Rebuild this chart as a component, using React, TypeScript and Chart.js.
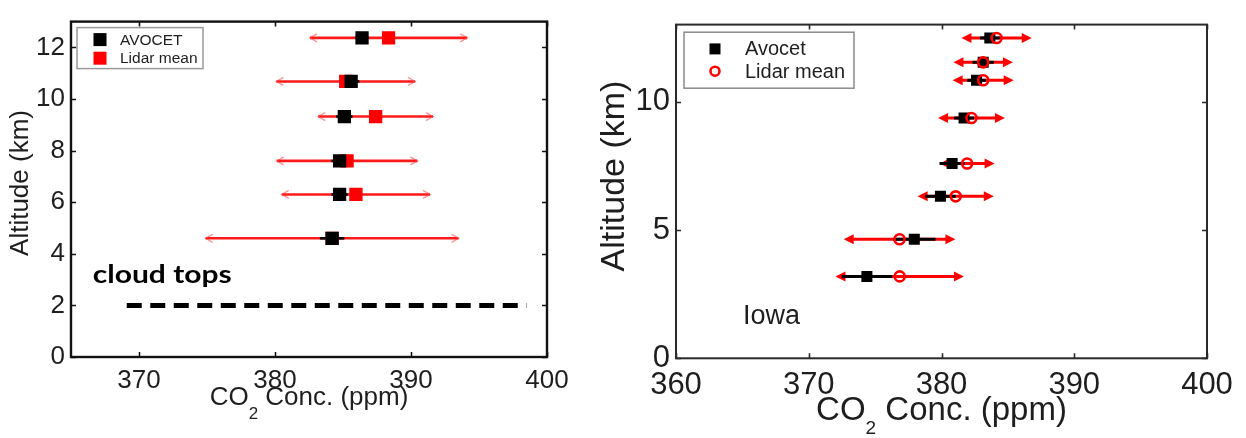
import React, { useEffect, useRef } from "react";
import { Chart, registerables } from "chart.js";

Chart.register(...registerables);

// ---------------- Left panel data ----------------
const leftAltitude = [12.37, 10.68, 9.32, 7.6, 6.3, 4.6];
const leftAvocet = [386.4, 385.6, 385.1, 384.75, 384.75, 384.2];
const leftAvocetErr = [0.5, 0.6, 0.6, 0.6, 0.6, 0.9];
const leftLidar = [388.35, 385.2, 387.4, 385.3, 385.95, 384.2];
const leftLidarErr = [5.78, 5.1, 4.22, 5.17, 5.45, 9.3];
const leftXTicks = [370, 380, 390, 400];
const leftYTicks = [0, 2, 4, 6, 8, 10, 12];
const cloudTopX = [369.1, 398.5];
const cloudTopAltitude = 2;
const cloudLabel = { text: "cloud tops", x: 366.6, y: 2.88 };

// ---------------- Right panel data ----------------
const rightAltitude = [12.48, 11.53, 10.83, 9.36, 7.59, 6.31, 4.64, 3.19];
const rightAvocet = [383.64, 383.14, 382.64, 381.7, 380.8, 379.92, 377.95, 374.38];
const rightAvocetErr = [0.75, 0.8, 0.7, 0.75, 0.95, 1.15, 1.6, 1.9];
const rightLidar = [384.15, 383.14, 383.14, 382.26, 381.93, 381.07, 376.84, 376.85];
const rightLidarErr = [2.65, 2.24, 2.3, 2.52, 2.07, 2.87, 4.21, 4.84];
const rightXTicks = [360, 370, 380, 390, 400];
const rightYTicks = [0, 5, 10];
const iowaLabel = { text: "Iowa", x: 365.05, y: 1.33 };

const FONT = '"Liberation Sans", Arial, Helvetica, sans-serif';
const TEXT = "#1e1e1e";

type BarSet = {
  alt: number[];
  center: number[];
  half: number[];
  color: string;
  width: number;
  arrow: "open" | "filled" | "none";
};

function errorBarPlugin(sets: BarSet[]) {
  return {
    id: "errorBars",
    beforeDatasetsDraw(chart: any) {
      const { ctx, scales } = chart;
      const xs = scales.x;
      const ys = scales.y;
      ctx.save();
      sets.forEach((s) => {
        s.alt.forEach((a, i) => {
          const y = ys.getPixelForValue(a);
          const x0 = xs.getPixelForValue(s.center[i] - s.half[i]);
          const x1 = xs.getPixelForValue(s.center[i] + s.half[i]);
          ctx.strokeStyle = s.color;
          ctx.lineWidth = s.width;
          ctx.lineCap = "butt";
          ctx.beginPath();
          if (s.arrow === "filled") {
            ctx.moveTo(x0 + 8, y);
            ctx.lineTo(x1 - 8, y);
          } else {
            ctx.moveTo(x0, y);
            ctx.lineTo(x1, y);
          }
          ctx.stroke();
          if (s.arrow === "filled") {
            ctx.fillStyle = s.color;
            ctx.beginPath();
            ctx.moveTo(x0, y);
            ctx.lineTo(x0 + 10, y - 5);
            ctx.lineTo(x0 + 10, y + 5);
            ctx.closePath();
            ctx.fill();
            ctx.beginPath();
            ctx.moveTo(x1, y);
            ctx.lineTo(x1 - 10, y - 5);
            ctx.lineTo(x1 - 10, y + 5);
            ctx.closePath();
            ctx.fill();
          } else if (s.arrow === "open") {
            ctx.strokeStyle = "rgba(255,60,60,0.55)";
            ctx.lineWidth = 1.4;
            ctx.beginPath();
            ctx.moveTo(x0 + 7, y - 4);
            ctx.lineTo(x0, y);
            ctx.lineTo(x0 + 7, y + 4);
            ctx.moveTo(x1 - 7, y - 4);
            ctx.lineTo(x1, y);
            ctx.lineTo(x1 - 7, y + 4);
            ctx.stroke();
          }
        });
      });
      ctx.restore();
    },
  };
}

type LegendItem = { label: string; kind: "rect" | "circle"; color: string };
type Deco = {
  frameColor: string;
  frameWidth: number;
  tickLen: number;
  legend: {
    dx: number; dy: number; w: number; h: number;
    markerDx: number; textDx: number; rowDy: number[];
    font: number; marker: number; border: string;
    items: LegendItem[];
  };
  xTitle: { baseline: number; size: number; sub: number; drop: number };
  yTitle: { x: number; y: number; size: number };
  texts: { text: string; x: number; y: number; font: string; scaleX: number; color: string }[];
};

function decoPlugin(d: Deco) {
  return {
    id: "deco",
    afterDraw(chart: any) {
      const { ctx, chartArea, scales } = chart;
      const { left, right, top, bottom } = chartArea;
      ctx.save();
      // frame
      ctx.strokeStyle = d.frameColor;
      ctx.lineWidth = d.frameWidth;
      ctx.strokeRect(left, top, right - left, bottom - top);
      // inward ticks on all four sides
      ctx.beginPath();
      scales.x.ticks.forEach((t: any) => {
        const x = Math.round(scales.x.getPixelForValue(t.value)) + 0.5;
        ctx.moveTo(x, bottom);
        ctx.lineTo(x, bottom - d.tickLen);
        ctx.moveTo(x, top);
        ctx.lineTo(x, top + d.tickLen);
      });
      scales.y.ticks.forEach((t: any) => {
        const y = Math.round(scales.y.getPixelForValue(t.value)) + 0.5;
        ctx.moveTo(left, y);
        ctx.lineTo(left + d.tickLen, y);
        ctx.moveTo(right, y);
        ctx.lineTo(right - d.tickLen, y);
      });
      ctx.lineWidth = 1.6;
      ctx.stroke();

      // legend
      const L = d.legend;
      const lx = left + L.dx;
      const ly = top + L.dy;
      ctx.fillStyle = "#fff";
      ctx.fillRect(lx, ly, L.w, L.h);
      ctx.strokeStyle = L.border;
      ctx.lineWidth = 1.5;
      ctx.strokeRect(lx, ly, L.w, L.h);
      L.items.forEach((it, i) => {
        const cy = ly + L.rowDy[i];
        const cx = lx + L.markerDx;
        if (it.kind === "rect") {
          ctx.fillStyle = it.color;
          ctx.fillRect(cx - L.marker / 2, cy - L.marker / 2, L.marker, L.marker);
        } else {
          ctx.strokeStyle = it.color;
          ctx.lineWidth = 2.6;
          ctx.beginPath();
          ctx.arc(cx, cy, L.marker / 2 - 1, 0, Math.PI * 2);
          ctx.stroke();
        }
        ctx.fillStyle = TEXT;
        ctx.font = `${L.font}px ${FONT}`;
        ctx.textAlign = "left";
        ctx.textBaseline = "middle";
        ctx.fillText(it.label, lx + L.textDx, cy + 1);
      });

      // x title with subscript
      const T = d.xTitle;
      ctx.fillStyle = TEXT;
      ctx.textBaseline = "alphabetic";
      ctx.textAlign = "left";
      ctx.font = `${T.size}px ${FONT}`;
      const w1 = ctx.measureText("CO").width;
      const w3 = ctx.measureText(" Conc. (ppm)").width;
      ctx.font = `${T.sub}px ${FONT}`;
      const w2 = ctx.measureText("2").width;
      const total = w1 + w2 + w3;
      let x = (left + right) / 2 - total / 2;
      ctx.font = `${T.size}px ${FONT}`;
      ctx.fillText("CO", x, T.baseline);
      x += w1;
      ctx.font = `${T.sub}px ${FONT}`;
      ctx.fillText("2", x, T.baseline + T.drop);
      x += w2;
      ctx.font = `${T.size}px ${FONT}`;
      ctx.fillText(" Conc. (ppm)", x, T.baseline);

      // y title
      const Y = d.yTitle;
      ctx.save();
      ctx.translate(Y.x, Y.y);
      ctx.rotate(-Math.PI / 2);
      ctx.font = `${Y.size}px ${FONT}`;
      ctx.textAlign = "center";
      ctx.textBaseline = "alphabetic";
      ctx.fillText("Altitude (km)", 0, 0);
      ctx.restore();

      // annotations (data coordinates)
      d.texts.forEach((t) => {
        const px = scales.x.getPixelForValue(t.x);
        const py = scales.y.getPixelForValue(t.y);
        ctx.save();
        ctx.translate(px, py);
        ctx.scale(t.scaleX, 1);
        ctx.font = t.font;
        ctx.fillStyle = t.color;
        ctx.textAlign = "left";
        ctx.textBaseline = "alphabetic";
        ctx.fillText(t.text, 0, 0);
        ctx.restore();
      });
      ctx.restore();
    },
  };
}

function pts(xs: number[], ys: number[]) {
  return ys.map((y, i) => ({ x: xs[i], y }));
}

function leftConfig(): any {
  return {
    type: "scatter",
    data: {
      datasets: [
        {
          label: "AVOCET",
          data: pts(leftAvocet, leftAltitude),
          pointStyle: "rect",
          pointRadius: 9.4,
          backgroundColor: "#000",
          borderColor: "#000",
          borderWidth: 0,
        },
        {
          label: "Lidar mean",
          data: pts(leftLidar, leftAltitude),
          pointStyle: "rect",
          pointRadius: 9.4,
          backgroundColor: "#ff0000",
          borderColor: "#ff0000",
          borderWidth: 0,
        },
        {
          label: "cloud tops",
          data: cloudTopX.map((x) => ({ x, y: cloudTopAltitude })),
          showLine: true,
          pointRadius: 0,
          borderColor: "#000",
          borderWidth: 5,
          borderDash: [15, 8.5],
        },
      ],
    },
    options: {
      animation: false,
      responsive: false,
      devicePixelRatio: 1,
      layout: { padding: { top: 6, right: 43, left: 0, bottom: 0 } },
      plugins: { legend: { display: false }, tooltip: { enabled: false } },
      scales: {
        x: {
          type: "linear",
          min: 365,
          max: 400,
          grid: { display: false, drawTicks: false },
          border: { display: false },
          ticks: { font: { family: FONT, size: 26 }, color: TEXT, padding: 8, autoSkip: false, maxRotation: 0 },
          afterBuildTicks: (s: any) => { s.ticks = leftXTicks.map((v) => ({ value: v })); },
          afterFit: (s: any) => { s.height = 81; },
        },
        y: {
          type: "linear",
          min: 0,
          max: 13,
          grid: { display: false, drawTicks: false },
          border: { display: false },
          ticks: { font: { family: FONT, size: 26 }, color: TEXT, padding: 6, autoSkip: false },
          afterBuildTicks: (s: any) => { s.ticks = leftYTicks.map((v) => ({ value: v })); },
          afterFit: (s: any) => { s.width = 71; },
        },
      },
    },
    plugins: [
      errorBarPlugin([
        { alt: leftAltitude, center: leftLidar, half: leftLidarErr, color: "#ff1a1a", width: 2.6, arrow: "open" },
        { alt: leftAltitude, center: leftAvocet, half: leftAvocetErr, color: "#000", width: 2.6, arrow: "none" },
      ]),
      decoPlugin({
        frameColor: "#111",
        frameWidth: 2.4,
        tickLen: 5,
        legend: {
          dx: 6, dy: 6, w: 126, h: 41, markerDx: 23, textDx: 43, rowDy: [12, 30.6],
          font: 15.5, marker: 13, border: "#9a9a9a",
          items: [
            { label: "AVOCET", kind: "rect", color: "#000" },
            { label: "Lidar mean", kind: "rect", color: "#ff0000" },
          ],
        },
        xTitle: { baseline: 405, size: 26, sub: 17, drop: 13.5 },
        yTitle: { x: 28, y: 183, size: 26 },
        texts: [
          { text: cloudLabel.text, x: cloudLabel.x, y: cloudLabel.y, font: `bold 25px Lato, "Open Sans", sans-serif`, scaleX: 1.2, color: "#000" },
        ],
      }),
    ],
  };
}

function rightConfig(): any {
  return {
    type: "scatter",
    data: {
      datasets: [
        {
          label: "Lidar mean",
          data: pts(rightLidar, rightAltitude),
          pointStyle: "circle",
          pointRadius: 5,
          backgroundColor: "rgba(0,0,0,0)",
          borderColor: "#ff0000",
          borderWidth: 2.6,
        },
        {
          label: "Avocet",
          data: pts(rightAvocet, rightAltitude),
          pointStyle: "rect",
          pointRadius: 7.8,
          backgroundColor: "#000",
          borderColor: "#000",
          borderWidth: 0,
        },
      ],
    },
    options: {
      animation: false,
      responsive: false,
      devicePixelRatio: 1,
      layout: { padding: { top: 16.7, right: 39, left: 0, bottom: 0 } },
      plugins: { legend: { display: false }, tooltip: { enabled: false } },
      scales: {
        x: {
          type: "linear",
          min: 360,
          max: 400,
          grid: { display: false, drawTicks: false },
          border: { display: false },
          ticks: { font: { family: FONT, size: 31 }, color: TEXT, padding: 9, autoSkip: false, maxRotation: 0 },
          afterBuildTicks: (s: any) => { s.ticks = rightXTicks.map((v) => ({ value: v })); },
          afterFit: (s: any) => { s.height = 79.7; },
        },
        y: {
          type: "linear",
          min: 0,
          max: 13,
          grid: { display: false, drawTicks: false },
          border: { display: false },
          ticks: { font: { family: FONT, size: 31 }, color: TEXT, padding: 6, autoSkip: false },
          afterBuildTicks: (s: any) => { s.ticks = rightYTicks.map((v) => ({ value: v })); },
          afterFit: (s: any) => { s.width = 86; },
        },
      },
    },
    plugins: [
      errorBarPlugin([
        { alt: rightAltitude, center: rightLidar, half: rightLidarErr, color: "#ff0000", width: 3, arrow: "filled" },
        { alt: rightAltitude, center: rightAvocet, half: rightAvocetErr, color: "#000", width: 3, arrow: "none" },
      ]),
      decoPlugin({
        frameColor: "#2a2a2a",
        frameWidth: 2,
        tickLen: 5,
        legend: {
          dx: 8, dy: 7.6, w: 170, h: 56, markerDx: 31, textDx: 61, rowDy: [16.7, 39],
          font: 20, marker: 11, border: "#8a8a8a",
          items: [
            { label: "Avocet", kind: "rect", color: "#000" },
            { label: "Lidar mean", kind: "circle", color: "#ff0000" },
          ],
        },
        xTitle: { baseline: 420, size: 33, sub: 19, drop: 13.5 },
        yTitle: { x: 34.3, y: 176, size: 34 },
        texts: [
          { text: iowaLabel.text, x: iowaLabel.x, y: iowaLabel.y, font: `27px ${FONT}`, scaleX: 1, color: TEXT },
        ],
      }),
    ],
  };
}

function Panel({ build, left, width, height }: { build: () => any; left: number; width: number; height: number }) {
  const ref = useRef<HTMLCanvasElement>(null);
  useEffect(() => {
    const chart = new Chart(ref.current as HTMLCanvasElement, build());
    return () => chart.destroy();
  }, []);
  return (
    <div style={{ position: "absolute", left, top: 0, width, height }}>
      <canvas ref={ref} width={width} height={height} style={{ width, height, display: "block" }} />
    </div>
  );
}

export default function App() {
  return (
    <div style={{ position: "absolute", left: 0, top: 0, width: 1246, height: 438, background: "#fff", overflow: "hidden" }}>
      <Panel build={leftConfig} left={0} width={590} height={438} />
      <Panel build={rightConfig} left={590} width={656} height={438} />
    </div>
  );
}
